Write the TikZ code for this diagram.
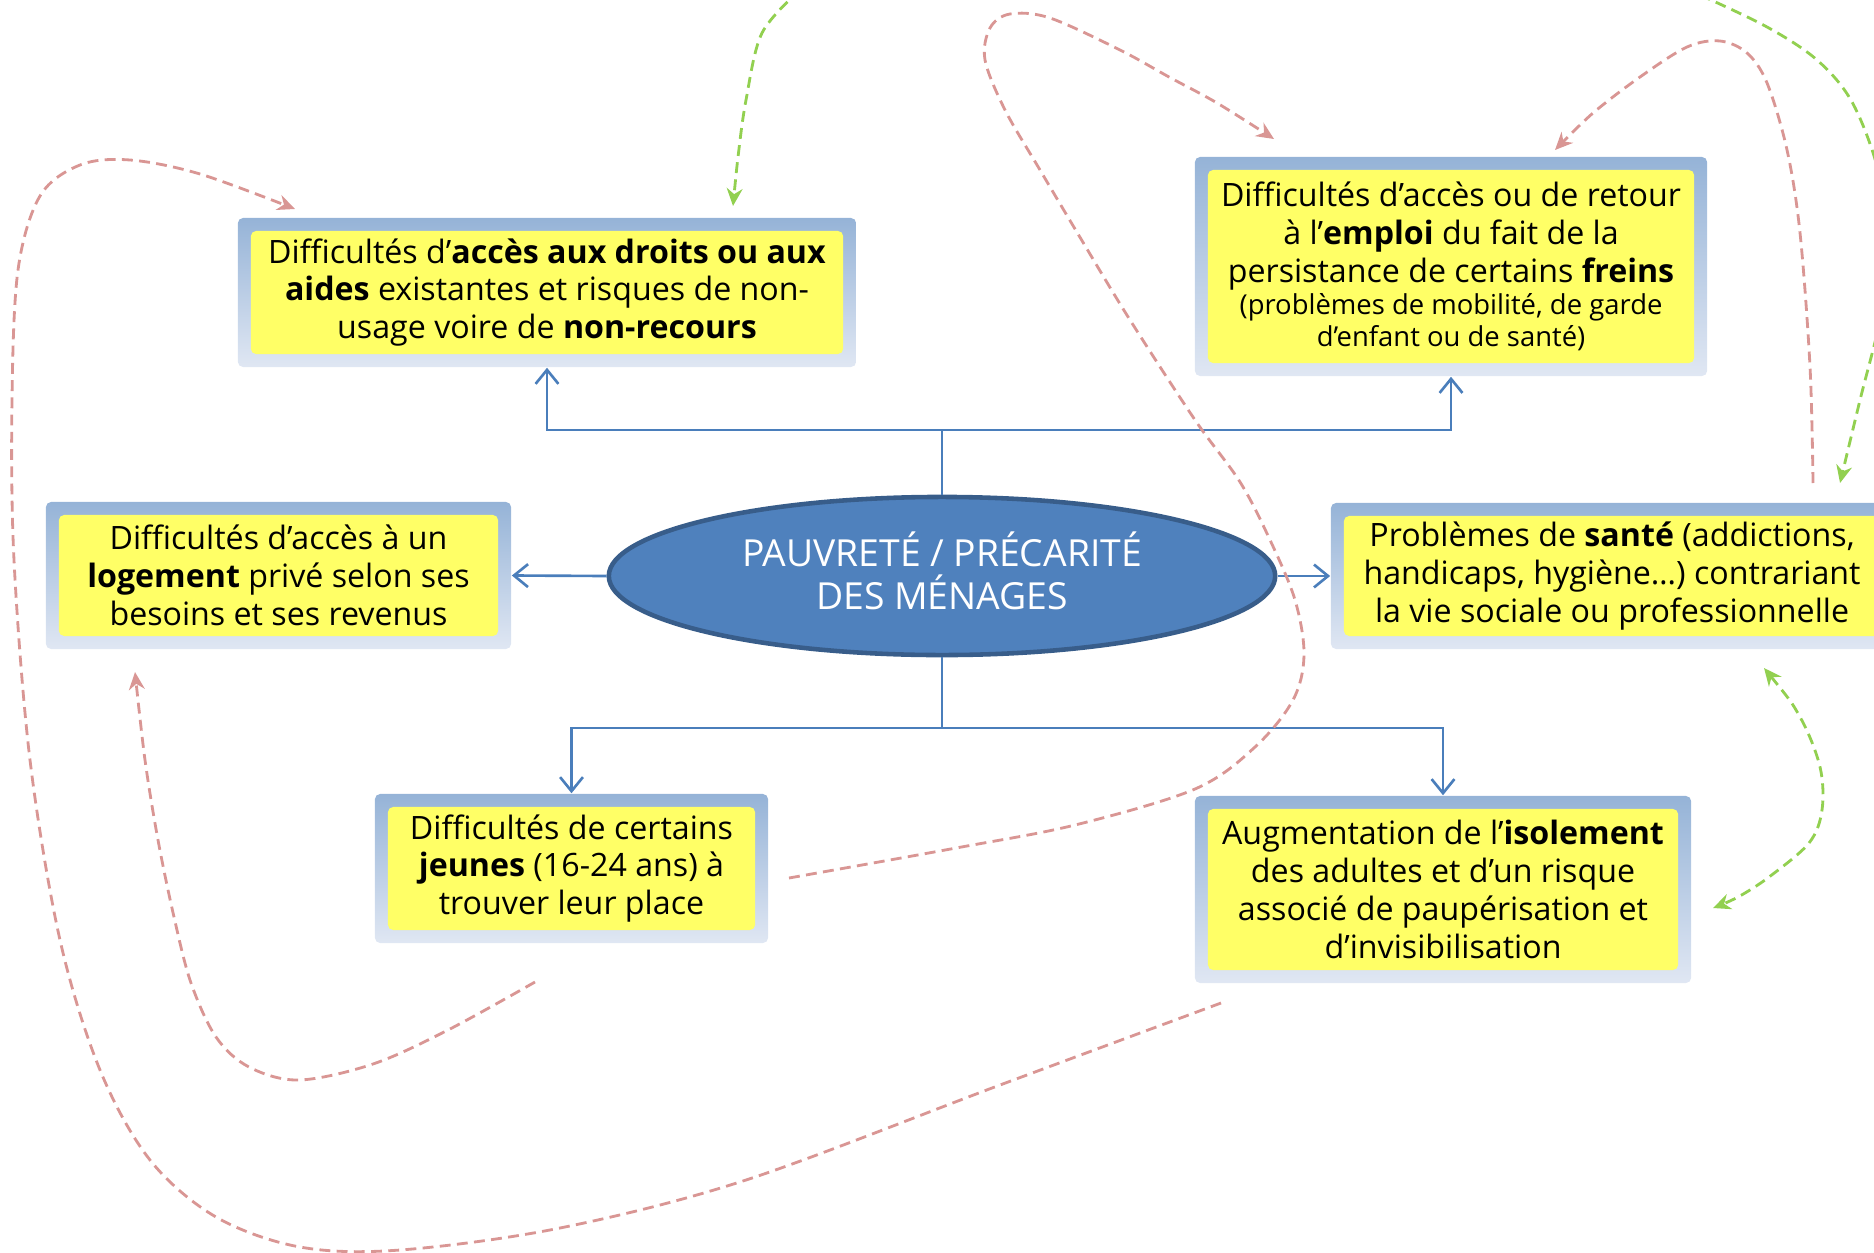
\documentclass[tikz,border=0pt]{standalone}
\usepackage{fontspec}
\setmainfont{Open Sans}
\usetikzlibrary{arrows.meta,shapes.geometric}

\definecolor{boxyellow}{HTML}{FFFF66}
\definecolor{frametop}{HTML}{95B3D7}
\definecolor{framebot}{HTML}{E0E7F3}
\definecolor{linkblue}{HTML}{4A7EBB}
\definecolor{ellfill}{HTML}{4F81BD}
\definecolor{elldraw}{HTML}{385D8A}
\definecolor{loopred}{HTML}{D99694}
\definecolor{loopgreen}{HTML}{92D050}

\tikzset{
  probbox/.style={shade, top color=frametop, bottom color=framebot,
    rounded corners=1.5pt, inner sep=4pt, align=center,
    font=\fontsize{9.15}{10.75}\selectfont,
    path picture={\fill[boxyellow]
      ([shift={(3.7pt,3.7pt)}]path picture bounding box.south west) rectangle
      ([shift={(-3.7pt,-3.7pt)}]path picture bounding box.north east);}},
  link/.style={draw=linkblue, line width=0.75pt, -{Straight Barb[length=4pt,width=6.5pt]}},
  redloop/.style={draw=loopred, line width=0.8pt, dash pattern=on 3.1pt off 1.8pt,
    -{Stealth[length=5pt,width=4.5pt]}},
  greenloop/.style={draw=loopgreen, line width=0.8pt, dash pattern=on 3.1pt off 1.8pt,
    -{Stealth[length=5pt,width=4.5pt]}}
}

\begin{document}
\begin{tikzpicture}[x=0.01cm, y=-0.01cm]
  \useasboundingbox (0,0) rectangle (1874,1252);
  \clip (0,0) rectangle (1874,1252);

  % the central ellipse
  \node[ellipse, minimum width=6.66cm, minimum height=1.58cm, inner sep=0pt,
        fill=ellfill, draw=elldraw, line width=1.3pt] (pauv) at (942,576) {};
  \node[text=white, align=center, font=\fontsize{10.6}{12.4}\selectfont]
        (pauvtxt) at (942,571) {PAUVRETÉ / PRÉCARITÉ\\DES MÉNAGES};

  % the boxes
  \node[probbox, minimum width=6.18cm, minimum height=1.49cm] (droits) at (547,292.5)
    {Difficultés d’\textbf{accès aux droits ou aux}\\\textbf{aides} existantes et risques de non-\\usage voire de \textbf{non-recours}};
  \node[probbox, minimum width=5.12cm, minimum height=2.19cm] (emploi) at (1451,266.5)
    {Difficultés d’accès ou de retour\\à l’\textbf{emploi} du fait de la\\persistance de certains \textbf{freins}\\[-1.6pt]
     {\fontsize{7.8}{9}\selectfont (problèmes de mobilité, de garde}\\[-1.6pt]
     {\fontsize{7.8}{9}\selectfont d’enfant ou de santé)}};
  \node[probbox, minimum width=4.65cm, minimum height=1.47cm] (logement) at (278.5,575.5)
    {Difficultés d’accès à un\\\textbf{logement} privé selon ses\\besoins et ses revenus};
  \node[probbox, minimum width=5.62cm, minimum height=1.46cm] (sante) at (1612,576)
    {Problèmes de \textbf{santé} (addictions,\\handicaps, hygiène…) contrariant\\la vie sociale ou professionnelle};
  \node[probbox, minimum width=3.93cm, minimum height=1.49cm] (jeunes) at (571.5,868.5)
    {Difficultés de certains\\\textbf{jeunes} (16-24 ans) à\\trouver leur place};
  \node[probbox, minimum width=4.96cm, minimum height=1.87cm] (isolement) at (1443,889.5)
    {Augmentation de l’\textbf{isolement}\\des adultes et d’un risque\\associé de paupérisation et\\d’invisibilisation};

  % define the coordinates
  \coordinate (topfork) at (942,430);
  \coordinate (botfork) at (942,728);
  \coordinate (isoBas) at (1221,1003);
  \coordinate (droitsHaut) at (295,209);
  \coordinate (jeunesBas) at (535,982);
  \coordinate (logeBas) at (135,672);
  \coordinate (jeunesDroite) at (789,878);
  \coordinate (emploiHautG) at (1274,139);
  \coordinate (santeHaut) at (1813,483);
  \coordinate (emploiHautD) at (1555,150);
  \coordinate (titreG) at (800,-10);
  \coordinate (droitsHautD) at (733,206);
  \coordinate (titreD) at (1700,-5);
  \coordinate (santeHautD) at (1840,483);
  \coordinate (santeBas) at (1764,668);
  \coordinate (isoDroite) at (1713,908);

  % draw the blue links
  \draw[link] (pauv.north) -- (topfork) -| (droits.south);
  \draw[link] (topfork) -| (emploi.south);
  \draw[link] (pauv.south) -- (botfork) -| (jeunes.north);
  \draw[link] (botfork) -| (isolement.north);
  \draw[link] (pauv.west) -- (logement.east);
  \draw[link] (pauv.east) -- (sante.west);

  % draw the red loops
  \draw[redloop] plot[smooth, tension=0.55] coordinates {(isoBas) (1000,1085) (746,1180)
    (560,1228) (400,1250) (300,1247) (216,1217) (150,1160) (100,1070) (60,940) (30,760)
    (14,560) (12,400) (18,270) (40,196) (80,165) (130,160) (200,174) (droitsHaut)};
  \draw[redloop] plot[smooth, tension=0.55] coordinates {(jeunesBas) (448,1030) (373,1064)
    (299,1080) (249,1067) (216,1037) (191,983) (174,917) (158,840) (145,760) (logeBas)};
  \draw[redloop] plot[smooth, tension=0.55] coordinates {(jeunesDroite) (956,848) (1075,825)
    (1195,789) (1255,747) (1293,700) (1304,655) (1295,600) (1270,540) (1240,482)
    (1195,420) (1130,320) (1081,239) (1040,170) (1005,110) (985,60) (990,28) (1010,14)
    (1050,18) (1120,50) (1169,77) (1217,103) (emploiHautG)};
  \draw[redloop] plot[smooth, tension=0.55] coordinates {(santeHaut) (1810,367) (1800,233)
    (1787,150) (1767,83) (1747,53) (1720,41) (1687,47) (1640,77) (1593,113) (emploiHautD)};

  % draw the green loops
  \draw[greenloop] plot[smooth, tension=0.55] coordinates {(titreG) (762,33) (746,100)
    (738,157) (droitsHautD)};
  \draw[greenloop] plot[smooth, tension=0.55] coordinates {(titreD) (1767,27) (1817,60)
    (1852,102) (1878,170) (1890,250) (1880,320) (1860,400) (santeHautD)};
  \draw[greenloop, {Stealth[length=5pt,width=4.5pt]}-{Stealth[length=5pt,width=4.5pt]}]
    plot[smooth, tension=0.55] coordinates {(santeBas) (1800,717) (1820,767) (1822,810)
    (1809,843) (1769,877) (1738,897) (isoDroite)};
\end{tikzpicture}
\end{document}
